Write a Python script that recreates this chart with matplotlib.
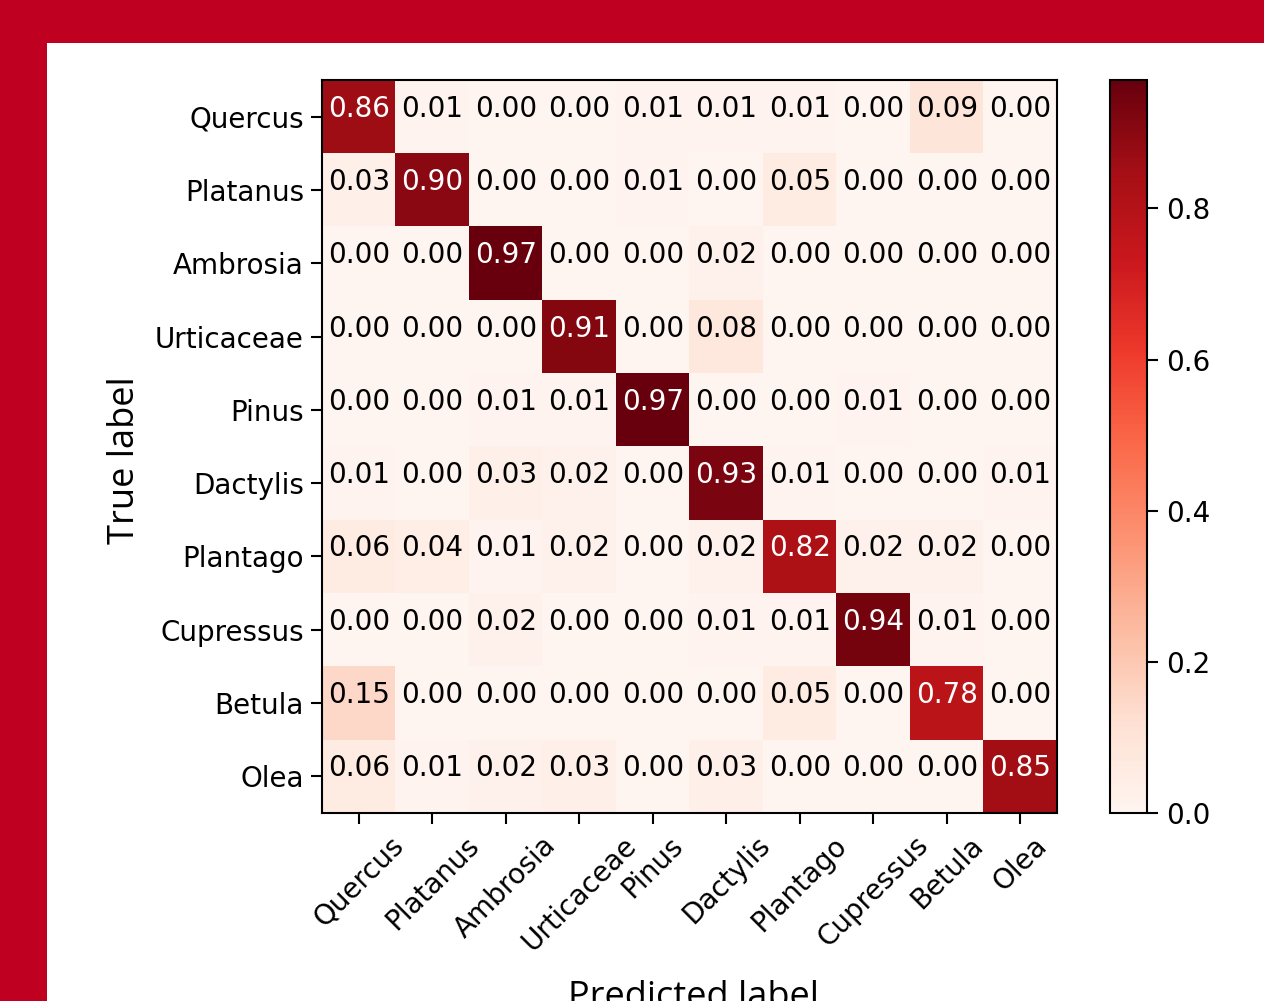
import matplotlib
matplotlib.use("Agg")
import matplotlib.pyplot as plt
from matplotlib.patches import Rectangle
import numpy as np

labels = ["Quercus", "Platanus", "Ambrosia", "Urticaceae", "Pinus",
          "Dactylis", "Plantago", "Cupressus", "Betula", "Olea"]

row_quercus = [0.86, 0.01, 0.00, 0.00, 0.01, 0.01, 0.01, 0.00, 0.09, 0.00]
row_platanus = [0.03, 0.90, 0.00, 0.00, 0.01, 0.00, 0.05, 0.00, 0.00, 0.00]
row_ambrosia = [0.00, 0.00, 0.97, 0.00, 0.00, 0.02, 0.00, 0.00, 0.00, 0.00]
row_urticaceae = [0.00, 0.00, 0.00, 0.91, 0.00, 0.08, 0.00, 0.00, 0.00, 0.00]
row_pinus = [0.00, 0.00, 0.01, 0.01, 0.97, 0.00, 0.00, 0.01, 0.00, 0.00]
row_dactylis = [0.01, 0.00, 0.03, 0.02, 0.00, 0.93, 0.01, 0.00, 0.00, 0.01]
row_plantago = [0.06, 0.04, 0.01, 0.02, 0.00, 0.02, 0.82, 0.02, 0.02, 0.00]
row_cupressus = [0.00, 0.00, 0.02, 0.00, 0.00, 0.01, 0.01, 0.94, 0.01, 0.00]
row_betula = [0.15, 0.00, 0.00, 0.00, 0.00, 0.00, 0.05, 0.00, 0.78, 0.00]
row_olea = [0.06, 0.01, 0.02, 0.03, 0.00, 0.03, 0.00, 0.00, 0.00, 0.85]

cm = np.array([row_quercus, row_platanus, row_ambrosia, row_urticaceae, row_pinus,
               row_dactylis, row_plantago, row_cupressus, row_betula, row_olea])

cbar_ticks = [0.0, 0.2, 0.4, 0.6, 0.8]

W, H = 1264, 1001
fig = plt.figure(figsize=(W / 100, H / 100), dpi=100)
fig.patch.set_facecolor("#BF0020")
fig.patches.append(Rectangle((47 / W, 0), 1 - 47 / W, (H - 43) / H,
                             transform=fig.transFigure, facecolor="white",
                             edgecolor="none", zorder=-10))

def fx(px):
    return px / W

def fy(py):
    return 1 - py / H

ax = fig.add_axes([fx(322), fy(813), fx(1057) - fx(322), fy(80) - fy(813)])
im = ax.imshow(cm, cmap="Reds", vmin=0, vmax=cm.max(), aspect="auto",
               interpolation="nearest")
fs = 20
thresh = cm.max() / 2
for i in range(cm.shape[0]):
    for j in range(cm.shape[1]):
        v = cm[i, j]
        ax.text(j, i, f"{v:.2f}", ha="center", va="baseline", fontsize=fs,
                color="white" if v > thresh else "black")

ax.set_xticks(range(len(labels)))
ax.set_yticks(range(len(labels)))
ax.set_xticklabels(labels, rotation=45, fontsize=fs)
ax.set_yticklabels(labels, fontsize=fs)
ax.tick_params(length=8, width=1.5, pad=5)
for s in ax.spines.values():
    s.set_linewidth(1.5)

cax = fig.add_axes([fx(1110), fy(813), fx(1147) - fx(1110), fy(80) - fy(813)])
cb = fig.colorbar(im, cax=cax, ticks=cbar_ticks)
cb.ax.tick_params(labelsize=fs, length=8, width=1.5, pad=6)
cb.ax.set_yticklabels([f"{t:.1f}" for t in cbar_ticks])
cb.outline.set_linewidth(1.5)

fig.text(fx(125), fy(460), "True label", rotation=90, ha="center", va="center",
         fontsize=26, family=["Open Sans", "DejaVu Sans"])
fig.text(fx(693), fy(980), "Predicted label", ha="center", va="top",
         fontsize=26, family=["Open Sans", "DejaVu Sans"])

fig.savefig("out.png", dpi=100, facecolor=fig.get_facecolor())
